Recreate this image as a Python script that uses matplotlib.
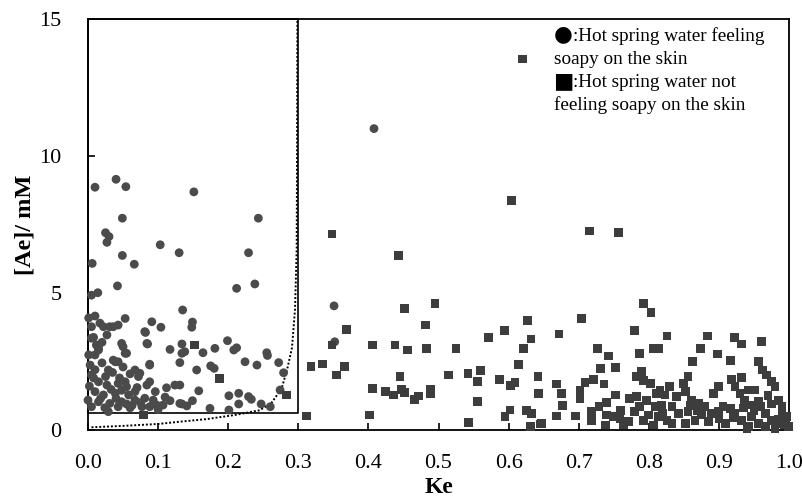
import numpy as np
import matplotlib
matplotlib.use('Agg')
import matplotlib.pyplot as plt

plt.rcParams['font.family'] = ['Liberation Serif', 'DejaVu Serif']

# --- data ---
circle_ke = [0.010, 0.040, 0.054, 0.151, 0.049, 0.243, 0.025, 0.030, 0.027, 0.103,
             0.130, 0.229, 0.049, 0.006, 0.066, 0.042, 0.212, 0.238, 0.014, 0.005,
             0.135, 0.053, 0.010, 0.001, 0.017, 0.031, 0.043, 0.091, 0.104, 0.082,
             0.149, 0.148, 0.008, 0.085, 0.048, 0.134, 0.117, 0.138, 0.164, 0.181,
             0.199, 0.208, 0.212, 0.255, 0.256, 0.053, 0.015, 0.001, 0.131, 0.088,
             0.224, 0.241, 0.272, 0.279, 0.175, 0.180, 0.155, 0.067, 0.074, 0.039,
             0.029, 0.053, 0.088, 0.112, 0.124, 0.131, 0.158, 0.201, 0.215, 0.229,
             0.233, 0.215, 0.247, 0.260, 0.274, 0.174, 0.201, 0.134, 0.141, 0.149,
             0.117, 0.096, 0.107, 0.029,
             0.005, 0.022, 0.036, 0.027, 0.081, 0.084, 0.005, 0.015, 0.010, 0.050,
             0.055, 0.134, 0.036, 0.043, 0.003, 0.088, 0.072, 0.005, 0.015, 0.027,
             0.043, 0.055, 0.084, 0.010, 0.022, 0.039, 0.058, 0.067, 0.000, 0.015,
             0.031, 0.048, 0.067, 0.081, 0.093, 0.131, 0.005, 0.024, 0.043, 0.060,
             0.077, 0.098,
             0.010, 0.020, 0.025, 0.035, 0.045, 0.050, 0.060, 0.033, 0.048, 0.070,
             0.018, 0.040, 0.055, 0.075, 0.002, 0.008, 0.012, 0.020, 0.063, 0.088,
             0.110, 0.100,
             0.351, 0.352, 0.408]
circle_ae = [8.86, 9.15, 8.88, 8.69, 7.73, 7.73, 7.20, 7.06, 6.85, 6.76,
             6.47, 6.47, 6.37, 6.08, 6.05, 5.26, 5.17, 5.33, 5.01, 4.92,
             4.38, 4.07, 4.16, 4.09, 3.90, 3.77, 3.83, 3.95, 3.75, 3.56,
             3.94, 3.75, 3.38, 3.14, 3.16, 3.14, 2.94, 2.86, 2.82, 2.98,
             3.26, 2.92, 3.00, 2.82, 2.72, 2.80, 2.92, 2.74, 2.46, 2.40,
             2.49, 2.37, 2.46, 2.09, 2.34, 2.25, 2.19, 2.19, 2.07, 2.49,
             2.19, 1.76, 1.76, 1.54, 1.64, 1.64, 1.43, 1.25, 1.34, 1.22,
             1.12, 0.95, 0.95, 0.85, 1.46, 0.79, 0.73, 0.95, 0.88, 1.07,
             1.07, 1.40, 0.91, 0.67,
             3.77, 3.77, 3.77, 3.47, 3.59, 3.16, 3.35, 2.98, 2.74, 3.04,
             2.80, 2.80, 2.55, 2.49, 2.37, 2.37, 1.95, 2.01, 1.76, 1.64,
             1.70, 1.58, 1.64, 1.40, 1.28, 1.34, 1.28, 1.40, 1.09, 1.03,
             0.97, 1.03, 1.09, 1.16, 1.09, 0.97, 0.85, 0.81, 0.85, 0.81,
             0.85, 0.91,
             2.20, 2.45, 1.95, 2.10, 1.90, 2.30, 2.05, 1.48, 1.45, 1.55,
             1.15, 1.15, 0.95, 1.00, 1.60, 1.90, 3.10, 3.20, 0.90, 0.85,
             1.20, 0.75,
             4.53, 3.22, 11.00]

square_ke = [0.152, 0.188, 0.283, 0.079,
             0.620, 0.604, 0.715, 0.757, 0.348, 0.443,
             0.369, 0.451, 0.495, 0.481, 0.348, 0.406, 0.438, 0.456, 0.483, 0.525,
             0.571, 0.594, 0.627, 0.632, 0.621, 0.318, 0.335, 0.366, 0.354, 0.445,
             0.514, 0.542, 0.560, 0.556, 0.614, 0.587, 0.609, 0.603, 0.642, 0.643,
             0.406, 0.424, 0.436, 0.447, 0.452, 0.466, 0.471, 0.489, 0.489, 0.556,
             0.312, 0.402, 0.543, 0.595, 0.602, 0.626, 0.633, 0.631, 0.645,
             0.792, 0.803, 0.704, 0.672, 0.780, 0.826, 0.727, 0.742, 0.787, 0.807,
             0.814, 0.731, 0.753, 0.721, 0.709, 0.668, 0.676, 0.736, 0.702, 0.702,
             0.753, 0.677, 0.695, 0.668, 0.718, 0.718, 0.729, 0.740, 0.740, 0.749,
             0.738, 0.759, 0.771, 0.783, 0.790, 0.792, 0.802, 0.783, 0.773, 0.787,
             0.797, 0.811, 0.816, 0.823, 0.809, 0.818, 0.814, 0.792, 0.807, 0.826,
             0.647, 0.764, 0.780,
             0.884, 0.922, 0.932, 0.961, 0.874, 0.898, 0.862, 0.916, 0.956, 0.962,
             0.968, 0.856, 0.849, 0.918, 0.932, 0.975, 0.980, 0.899, 0.892, 0.830,
             0.840, 0.852, 0.861, 0.871, 0.880, 0.923, 0.930, 0.942, 0.951, 0.937,
             0.944, 0.956, 0.985, 0.990, 0.997, 0.833, 0.842, 0.856, 0.866, 0.875,
             0.890, 0.899, 0.906, 0.916, 0.923, 0.932, 0.947, 0.966, 0.975, 0.985,
             0.994, 0.956, 0.942, 0.909, 0.885, 0.852, 0.833, 0.966, 0.999,
             0.950, 0.960, 0.970, 0.975, 0.985, 0.995, 0.920, 0.900, 0.870, 0.860,
             0.820, 0.800, 0.760, 0.935, 0.940, 0.980, 0.990]
square_ae = [3.10, 1.87, 1.28, 0.55,
             13.54, 8.39, 7.26, 7.20, 7.15, 6.36,
             3.67, 4.44, 4.62, 3.83, 3.10, 3.10, 3.10, 2.92, 2.98, 2.98,
             3.38, 3.62, 4.01, 3.32, 2.98, 2.31, 2.41, 2.31, 2.01, 1.95,
             2.01, 2.07, 2.16, 1.76, 2.40, 1.85, 1.74, 1.62, 1.95, 1.34,
             1.52, 1.40, 1.28, 1.49, 1.36, 1.12, 1.24, 1.49, 1.31, 1.03,
             0.51, 0.55, 0.27, 0.49, 0.73, 0.70, 0.61, 0.12, 0.22,
             4.62, 4.28, 4.08, 3.50, 3.62, 3.43, 2.97, 2.70, 2.80, 2.98,
             2.98, 2.24, 2.29, 1.85, 1.73, 1.68, 1.34, 1.68, 1.46, 1.16,
             1.28, 0.88, 0.51, 0.51, 0.67, 0.36, 0.85, 1.00, 0.55, 0.49,
             0.18, 0.43, 0.30, 1.95, 2.13, 1.82, 1.70, 1.22, 1.16, 0.85,
             1.09, 1.34, 1.46, 1.28, 0.85, 0.91, 0.49, 0.36, 0.18, 0.36,
             0.24, 0.18, 0.67,
             3.43, 3.38, 3.14, 3.22, 2.98, 2.77, 2.49, 2.53, 2.49, 2.19,
             2.01, 1.95, 1.70, 1.85, 1.92, 1.76, 1.58, 1.58, 1.34, 1.58,
             1.22, 1.40, 1.09, 0.97, 0.85, 1.58, 1.34, 1.46, 1.46, 1.09,
             0.91, 1.03, 1.09, 0.67, 0.49, 0.85, 0.61, 0.67, 0.36, 0.55,
             0.61, 0.67, 0.85, 0.79, 0.61, 0.36, 0.49, 0.61, 0.36, 0.24,
             0.18, 0.24, 0.12, 0.24, 0.30, 0.24, 0.24, 0.12, 0.12,
             0.70, 0.85, 1.25, 0.95, 0.40, 0.30, 0.45, 0.40, 0.70, 0.90,
             0.62, 0.55, 0.70, 0.80, 0.05, 0.05, 0.85]

# dotted boundary curve
curve_ke = [0.005, 0.05, 0.10, 0.13, 0.17, 0.21, 0.245, 0.262, 0.276, 0.284,
            0.291, 0.2953, 0.2977, 0.2982, 0.2987]
curve_ae = [0.10, 0.15, 0.22, 0.30, 0.40, 0.55, 0.72, 1.00, 1.50, 2.20,
            3.00, 4.40, 6.60, 10.0, 15.0]

# box around the soapy region
box_ke = [0.0, 0.3, 0.3, 0.0, 0.0]
box_ae = [15.0, 15.0, 0.62, 0.62, 15.0]

# legend-like note, one entry per line (symbol, text)
note_symbols = ['\u25CF', '', '\u25A0', '']
note_lines = [':Hot spring water feeling', 'soapy on the skin',
              ':Hot spring water not', 'feeling soapy on the skin']
note_baselines = [14.21, 13.36, 12.51, 11.68]

fig = plt.figure(figsize=(8.02, 5.01), dpi=100)
ax = fig.add_axes([88 / 802, 1 - 430 / 501, 701 / 802, 411 / 501])

ax.scatter(circle_ke, circle_ae, s=40, marker='o', color='#4b4b4b',
           edgecolors='none', clip_on=False, zorder=3)
ax.scatter(square_ke, square_ae, s=40, marker='s', color='#3d3d3d',
           edgecolors='none', clip_on=False, zorder=3)

ax.plot(box_ke, box_ae, color='black', lw=1.2, zorder=2, clip_on=False)
ax.plot(curve_ke, curve_ae, color='black', lw=1.4, ls=(0, (1, 1)), zorder=2)

for sym, line, yb in zip(note_symbols, note_lines, note_baselines):
    if sym:
        ax.text(0.664, yb, sym, fontsize=15.5, va='baseline', ha='left',
                family=['DejaVu Sans'])
        ax.text(0.6915, yb, line, fontsize=13.8, va='baseline', ha='left')
    else:
        ax.text(0.665, yb, line, fontsize=13.8, va='baseline', ha='left')

ax.set_xlim(0, 1.0)
ax.set_ylim(0, 15)
ax.set_xticks(np.arange(0, 1.01, 0.1))
ax.set_xticklabels([f'{v:.1f}' for v in np.arange(0, 1.01, 0.1)])
ax.set_yticks([0, 5, 10, 15])

ax.tick_params(axis='x', direction='in', length=5, width=1.2, labelsize=16, pad=17)
ax.tick_params(axis='y', direction='in', length=5, width=1.2, labelsize=16, pad=19)
for sp in ax.spines.values():
    sp.set_linewidth(1.3)

ax.set_xlabel('Ke', fontsize=17, fontweight='bold', labelpad=3)
ax.set_ylabel('[Ae]/ mM', fontsize=17.5, fontweight='bold', labelpad=3)

fig.savefig('out.png', dpi=100)
